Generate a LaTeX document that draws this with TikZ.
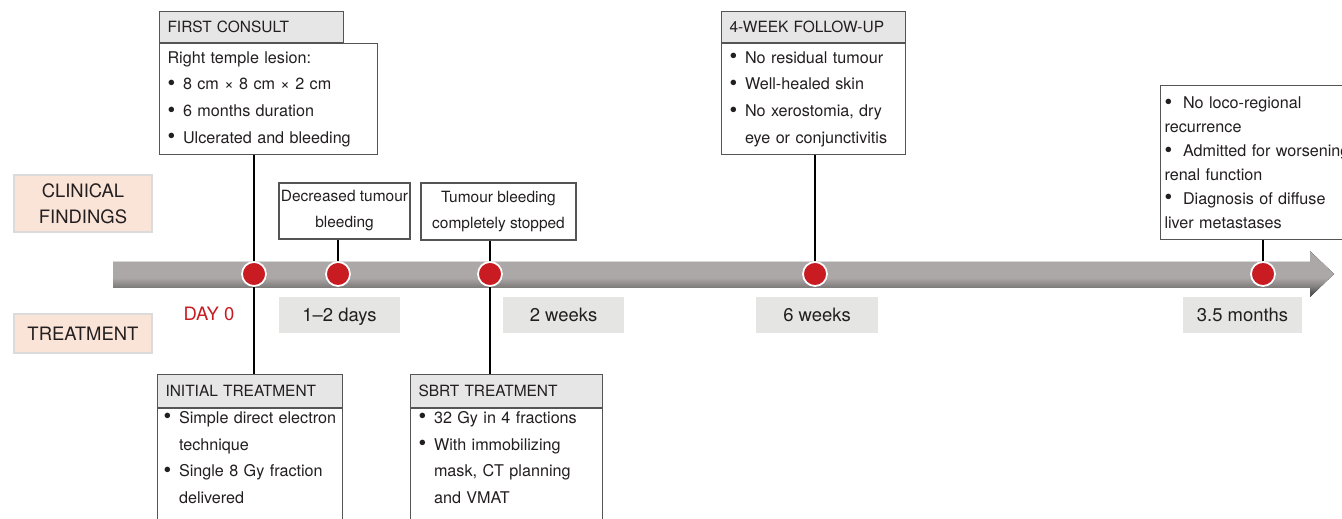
\documentclass[tikz,border=0pt]{standalone}
\usepackage{fontspec}
\setmainfont{TeX Gyre Heros}
\usepackage{tikz}
\usetikzlibrary{shadows}

\definecolor{dotRed}{RGB}{200,27,34}
\definecolor{barLight}{RGB}{172,168,167}
\definecolor{barMid}{RGB}{128,125,125}
\definecolor{barDark}{RGB}{88,86,86}
\definecolor{headGray}{RGB}{230,230,230}
\definecolor{spanGray}{RGB}{229,229,228}
\definecolor{sidePeach}{RGB}{250,227,215}
\definecolor{ink}{RGB}{35,31,32}
\definecolor{frame}{RGB}{85,85,85}

\pgfdeclareverticalshading{barshade}{100bp}{color(0bp)=(barDark); color(30bp)=(barDark); color(36bp)=(barMid); color(46bp)=(barLight); color(75bp)=(barLight); color(100bp)=(barLight)}

\hyphenpenalty=10000
\exhyphenpenalty=10000
\newcommand{\bigdot}{\raisebox{-0.4pt}{\fontsize{12.5}{12}\selectfont\textbullet}}
\newcommand{\bul}{\makebox[0.31cm][l]{\bigdot}}
\newcommand{\cont}{\hspace*{0.31cm}}

\begin{document}
\begin{tikzpicture}[
  side/.style={rectangle,fill=sidePeach,draw=black!14,line width=1.6pt,minimum width=2.76cm,align=center,text=ink,font=\fontsize{10.5}{14.8}\selectfont},
  span/.style={rectangle,fill=spanGray,minimum height=0.72cm,align=center,text height=9.6pt,text depth=2pt,text=ink,font=\fontsize{10.5}{12}\selectfont},
  head/.style={rectangle,draw=frame,line width=0.6pt,fill=headGray,anchor=north west,minimum height=0.62cm,inner xsep=0.16cm,align=left,text=ink,font=\fontsize{8.8}{10}\selectfont},
  body/.style={rectangle,draw=frame,line width=0.6pt,fill=white,anchor=north west,inner xsep=0.16cm,inner ysep=0.1cm,align=left,text=ink,font=\fontsize{9.2}{15.2}\selectfont},
  note/.style={rectangle,draw=frame,line width=0.6pt,fill=white,align=center,inner sep=1pt,text=ink,font=\fontsize{8.8}{14.8}\selectfont},
  dot/.style={circle,fill=dotRed,draw=white,line width=1pt,minimum size=0.48cm,inner sep=0pt,drop shadow={shadow xshift=0.5pt,shadow yshift=-0.6pt,opacity=0.35}},
  link/.style={line width=1.1pt,draw=black}
]
\useasboundingbox (0,0) rectangle (26.84,10.36);
\clip (0,0) rectangle (26.84,10.36);
\fill[white] (0,0) rectangle (26.84,10.36);

% time axis
\fill[shading=barshade] (2.26,5.12) -- (26.2,5.12) -- (26.2,5.34) -- (26.68,4.88)
  -- (26.2,4.42) -- (26.2,4.60) -- (2.26,4.60) -- cycle;
\coordinate (t0) at (5.08,4.88);
\coordinate (t1) at (6.76,4.88);
\coordinate (t2) at (9.80,4.88);
\coordinate (t3) at (16.30,4.88);
\coordinate (t4) at (25.26,4.88);

% row labels
\node[side,minimum height=1.14cm] (cf) at (1.66,6.29) {CLINICAL\\FINDINGS};
\node[side,minimum height=0.78cm] (tr) at (1.66,3.69) {TREATMENT};
\node[text=dotRed,font=\fontsize{10.5}{12}\selectfont] (day) at (4.18,4.08) {DAY 0};

% intervals
\node[span,minimum width=2.42cm] (s1) at (6.79,4.06) {1--2 days};
\node[span,minimum width=2.42cm] (s2) at (11.27,4.06) {2 weeks};
\node[span,minimum width=2.44cm] (s3) at (16.34,4.06) {6 weeks};
\node[span,minimum width=2.38cm] (s4) at (24.85,4.06) {3.5 months};

% clinical findings
\node[head,text width=3.36cm] (fch) at (3.18,10.14) {FIRST CONSULT};
\node[body,text width=4.04cm,minimum height=2.22cm] (fcb) at (fch.south west)
  {Right temple lesion:\\ \bul 8 cm × 8 cm × 2 cm\\ \bul 6 months duration\\ \bul Ulcerated and bleeding};
\node[note,minimum width=2.62cm,minimum height=1.12cm] (dtb) at (6.89,6.14) {Decreased tumour\\bleeding};
\node[note,minimum width=3.10cm,minimum height=1.14cm] (tbs) at (9.97,6.13) {Tumour bleeding\\completely stopped};
\node[head,text width=3.36cm] (fuh) at (14.42,10.14) {4-WEEK FOLLOW-UP};
\node[body,text width=3.36cm,minimum height=2.22cm] (fub) at (fuh.south west)
  {\bul No residual tumour\\ \bul Well-healed skin\\ \bul No xerostomia, dry\\ \cont eye or conjunctivitis};
\node[body,text width=4.04cm,inner xsep=0.08cm,minimum height=3.08cm,font=\fontsize{9.2}{13.6}\selectfont] (lmb) at (23.2,8.66)
  {\bigdot\ \ No loco-regional\\ recurrence\\ \bigdot\ \ Admitted for worsening\\ renal function\\ \bigdot\ \ Diagnosis of diffuse\\ liver metastases};

% treatment
\node[head,text width=3.38cm,minimum height=0.66cm] (ith) at (3.14,2.88) {INITIAL TREATMENT};
\node[body,text width=3.46cm,inner xsep=0.12cm,inner ysep=1.5pt,text depth=2.5cm] (itb) at (ith.south west)
  {\bul Simple direct electron\\ \cont technique\\ \bul Single 8 Gy fraction\\ \cont delivered};
\node[head,text width=3.52cm,minimum height=0.66cm] (sbh) at (8.20,2.88) {SBRT TREATMENT};
\node[body,text width=3.52cm,inner ysep=1.5pt,text depth=2.5cm] (sbb) at (sbh.south west)
  {\bul 32 Gy in 4 fractions\\ \bul With immobilizing\\ \cont mask, CT planning\\ \cont and VMAT};

% connectors
\draw[link] (fcb.south -| t0) -- (ith.north -| t0);
\draw[link] (dtb.south -| t1) -- (t1);
\draw[link] (tbs.south -| t2) -- (sbh.north -| t2);
\draw[link] (fub.south -| t3) -- (t3);
\draw[link] (lmb.south -| t4) -- (t4);

% events
\node[dot] (d0) at (t0) {};
\node[dot] (d1) at (t1) {};
\node[dot] (d2) at (t2) {};
\node[dot] (d3) at (t3) {};
\node[dot] (d4) at (t4) {};
\end{tikzpicture}
\end{document}
